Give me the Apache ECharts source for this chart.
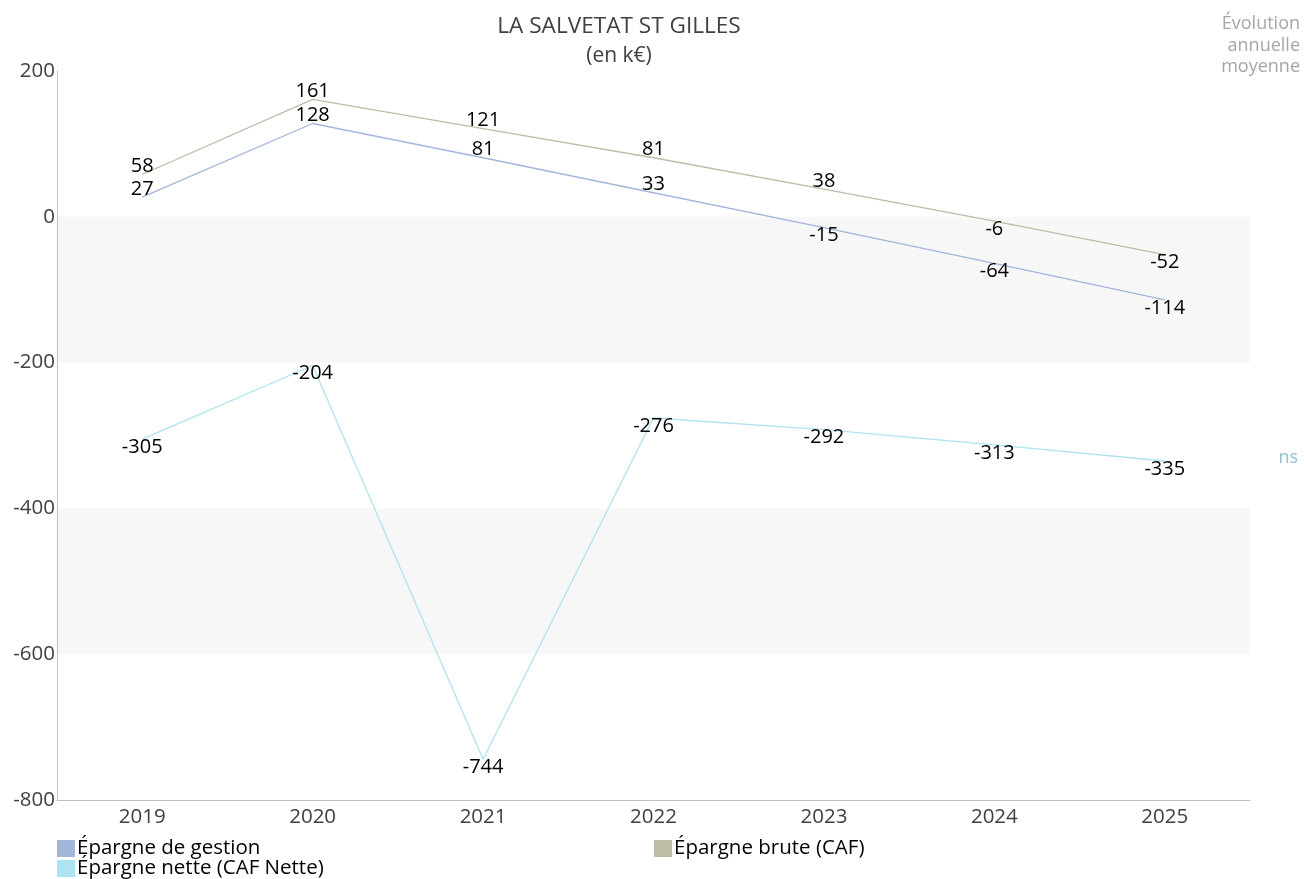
<!DOCTYPE html>
<html>
<head>
<meta charset="utf-8">
<script src="https://cdn.jsdelivr.net/npm/echarts@6/dist/echarts.min.js"></script>
<style>
  html, body { margin: 0; padding: 0; background: #ffffff; }
  #chart { width: 1304px; height: 879px; }
</style>
</head>
<body>
<div id="chart"></div>
<script>
// Années
const years = ['2019', '2020', '2021', '2022', '2023', '2024', '2025'];

// Séries (en k€)
const epargneGestion = [27, 128, 81, 33, -15, -64, -114];
const epargneBrute = [58, 161, 121, 81, 38, -6, -52];
const epargneNette = [-305, -204, -744, -276, -292, -313, -335];

// Libellés des séries
const nameGestion = 'Épargne de gestion';
const nameBrute = 'Épargne brute (CAF)';
const nameNette = 'Épargne nette (CAF Nette)';

// En-tête de la colonne de droite
const evolutionLines = ['Évolution', 'annuelle', 'moyenne'];

const FONT = '"Open Sans", "Noto Sans", sans-serif';
const colGestion = '#a2b6da';
const colBrute = '#bdbca6';
const colNette = '#aee3f1';

// Étiquettes : au-dessus si positif, en dessous si négatif
function signLabelled(values) {
  return values.map(v => ({
    value: v,
    label: { position: v >= 0 ? 'top' : 'bottom', distance: -2 }
  }));
}

function lineSeries(name, values, color) {
  return {
    name: name,
    type: 'line',
    data: signLabelled(values),
    symbol: 'circle',
    symbolSize: 0.01,
    showSymbol: true,
    lineStyle: { color: color, width: 1.3 },
    itemStyle: { color: color },
    label: {
      show: true,
      fontFamily: FONT,
      fontSize: 20,
      color: '#000000'
    },
    emphasis: { disabled: true },
    animation: false
  };
}

function legendItem(name, left, top) {
  return {
    data: [name],
    left: left, top: top,
    itemWidth: 18, itemHeight: 17,
    icon: 'rect',
    selectedMode: false,
    padding: 0,
    textStyle: { fontFamily: FONT, fontSize: 20.5, color: '#000000', padding: [0, 0, 0, -3] }
  };
}

const chart = echarts.init(document.getElementById('chart'), null, { renderer: 'canvas' });

chart.setOption({
  animation: false,
  textStyle: { fontFamily: FONT },
  title: [
    {
      text: 'LA SALVETAT ST GILLES',
      left: 614, top: 10, textAlign: 'center',
      textStyle: { fontFamily: FONT, fontSize: 22.6, fontWeight: 'normal', color: '#404040' }
    },
    {
      text: '(en k€)',
      left: 614, top: 41, textAlign: 'center',
      textStyle: { fontFamily: FONT, fontSize: 21, fontWeight: 'normal', color: '#404040' }
    },
    {
      text: 'ns',
      right: 6, top: 449,
      padding: 0,
      textStyle: { fontFamily: FONT, fontSize: 18, fontWeight: 'normal', color: '#8fc3d0' }
    }
  ],
  // Lignes alignées à droite, une par élément
  graphic: evolutionLines.map((line, i) => ({
    type: 'text',
    right: 4, top: 15 + i * 21.5,
    silent: true,
    style: {
      text: line,
      fontFamily: FONT,
      fontSize: 18,
      fill: '#a6a6a6'
    }
  })),
  legend: [
    legendItem(nameGestion, 57, 838),
    legendItem(nameNette, 57, 858),
    legendItem(nameBrute, 654, 838)
  ],
  grid: { left: 57, right: 54, top: 71, bottom: 79, containLabel: false },
  xAxis: {
    type: 'category',
    data: years,
    boundaryGap: true,
    axisLine: { onZero: false, lineStyle: { color: '#bfbfbf', width: 1 } },
    axisTick: { show: false },
    axisLabel: { fontFamily: FONT, fontSize: 20.5, color: '#404040', margin: 7 },
    splitLine: { show: false }
  },
  yAxis: {
    type: 'value',
    min: -800, max: 200, interval: 200,
    axisLine: { show: true, lineStyle: { color: '#bfbfbf', width: 1 } },
    axisTick: { show: false },
    axisLabel: { fontFamily: FONT, fontSize: 20.5, color: '#404040', margin: 2 },
    splitLine: { show: false },
    splitArea: { show: true, areaStyle: { color: ['rgba(255,255,255,0)', '#f7f7f7'] } }
  },
  series: [
    lineSeries(nameGestion, epargneGestion, colGestion),
    lineSeries(nameBrute, epargneBrute, colBrute),
    lineSeries(nameNette, epargneNette, colNette)
  ]
});
</script>
</body>
</html>
